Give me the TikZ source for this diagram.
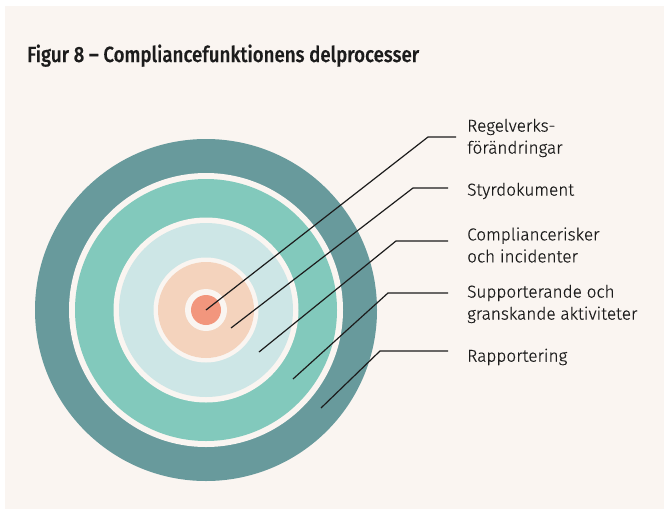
\documentclass[tikz,border=0pt]{standalone}
\usepackage{fontspec}
\setmainfont{Fira Sans Light}[FakeBold=0.4]
\newfontfamily\titlefont{Fira Sans Medium}[FakeStretch=0.85, FakeBold=0.3]
\definecolor{bg}{HTML}{FAF5F1}
\definecolor{ink}{HTML}{1C1C1C}
\definecolor{ringA}{HTML}{F2967D}
\definecolor{ringB}{HTML}{F4D3BD}
\definecolor{ringC}{HTML}{CDE6E6}
\definecolor{ringD}{HTML}{82C9BC}
\definecolor{ringE}{HTML}{689A9C}

\begin{document}
\begin{tikzpicture}[x=1pt, y=-1pt,
		leader/.style={draw=ink, line width=1.2pt},
		lbl/.style={anchor=west, inner sep=0pt, align=left, text=ink, font=\fontsize{17.2}{22}\selectfont}]
			\useasboundingbox (0,0) rectangle (664,509);
			\fill[white] (0,0) rectangle (664,509);
			\fill[bg] (5,6) rectangle (664,509);
			\node[anchor=base west, inner sep=0pt, text=ink, font=\titlefont\fontsize{22}{26}\selectfont] (title) at (27,62) {Figur 8 – Compliancefunktionens delprocesser};
			% rings, outside in
			\coordinate (c) at (206,310);
			\fill[ringE] (c) circle (171pt);
			\fill[bg] (c) circle (137pt);
			\fill[ringD] (c) circle (131pt);
			\fill[bg] (c) circle (92.5pt);
			\fill[ringC] (c) circle (87pt);
			\fill[bg] (c) circle (52.5pt);
			\fill[ringB] (c) circle (48pt);
			\fill[bg] (c) circle (21pt);
			\fill[ringA] (c) circle (15pt);
			% labels
			\node[lbl] (l1) at (467,138) {Regelverks-\\förändringar};
			\node[lbl] (l2) at (467,191) {Styrdokument};
			\node[lbl] (l3) at (467,245) {Compliancerisker\\och incidenter};
			\node[lbl] (l4) at (467,304) {Supporterande och\\granskande aktiviteter};
			\node[lbl] (l5) at (467,357) {Rapportering};
			% leader lines
			\coordinate (p2) at (231,328);
			\coordinate (p3) at (259,352);
			\coordinate (p4) at (293,379);
			\coordinate (p5) at (321,408);
			\coordinate (k1) at (428,137);
			\coordinate (k2) at (413,188);
			\coordinate (k3) at (396,241);
			\coordinate (k4) at (388,293);
			\coordinate (k5) at (380,351);
			\coordinate (e1) at (456,137);
			\coordinate (e2) at (448,188);
			\coordinate (e3) at (448,241);
			\coordinate (e4) at (448,293);
			\coordinate (e5) at (448,351);
			\draw[leader] (c) -- (k1) -- (e1);
			\draw[leader] (p2) -- (k2) -- (e2);
			\draw[leader] (p3) -- (k3) -- (e3);
			\draw[leader] (p4) -- (k4) -- (e4);
			\draw[leader] (p5) -- (k5) -- (e5);
		\end{tikzpicture}
\end{document}
